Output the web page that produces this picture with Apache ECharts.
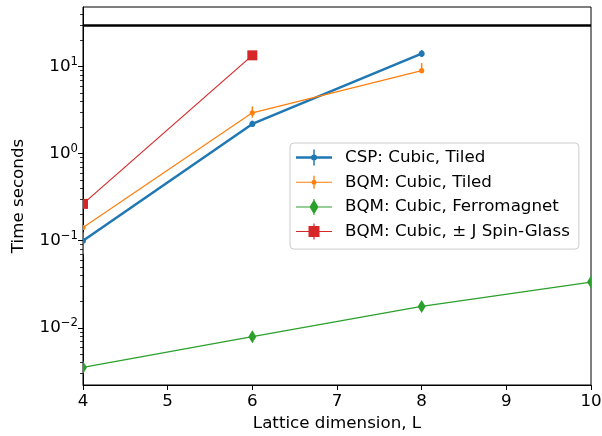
<!DOCTYPE html>
<html><head><meta charset="utf-8">
<script src="https://cdn.jsdelivr.net/npm/echarts@6/dist/echarts.min.js"></script>
<style>html,body{margin:0;padding:0;background:#fff}#c{width:602px;height:436px}</style>
</head><body><div id="c"></div>
<script>
// ---- data ----
const cspTiledX = [4, 6, 8];
const cspTiled = [0.1, 2.2, 14.1];
const cspTiledLow = [0.07, 2.05, 12.9];
const cspTiledHigh = [0.125, 2.4, 15.5];

const bqmTiledX = [4, 6, 8];
const bqmTiled = [0.142, 2.95, 9.0];
const bqmTiledLow = [0.135, 2.6, 8.5];
const bqmTiledHigh = [0.15, 3.5, 11.0];

const ferroX = [4, 6, 8, 10];
const ferro = [0.0035, 0.0079, 0.0176, 0.0335];

const spinX = [4, 6];
const spin = [0.265, 13.5];

const timeoutSeconds = 30;

const xTicks = [4, 5, 6, 7, 8, 9, 10];
const yMajorTicks = [0.01, 0.1, 1, 10];
const yMinorTicks = [0.003, 0.004, 0.005, 0.006, 0.007, 0.008, 0.009,
  0.02, 0.03, 0.04, 0.05, 0.06, 0.07, 0.08, 0.09,
  0.2, 0.3, 0.4, 0.5, 0.6, 0.7, 0.8, 0.9,
  2, 3, 4, 5, 6, 7, 8, 9, 20, 30, 40];

const names = ['CSP: Cubic, Tiled', 'BQM: Cubic, Tiled', 'BQM: Cubic, Ferromagnet', 'BQM: Cubic, \u00b1 J Spin-Glass'];
const colors = ['#1f77b4', '#ff7f0e', '#2ca02c', '#d62728'];

const FONT = 'DejaVu Sans';
const FS = 16.7;
const Y_MIN = 0.0022, Y_MAX = 48.5;

function lineSeries(i, xs, ys, width) {
  return {
    type: 'line', name: names[i], data: xs.map((x, k) => [x, ys[k]]),
    showSymbol: false, symbol: 'none', clip: true, z: 2 + i * 2,
    lineStyle: { color: colors[i], width: width },
    itemStyle: { color: colors[i] }, animation: false, silent: true
  };
}
function markerSeries(i, xs, ys, lo, hi, shape, ebw) {
  const color = colors[i];
  return {
    type: 'custom', name: names[i], clip: true, z: 3 + i * 2, animation: false, silent: true,
    itemStyle: { color: color },
    data: xs.map((x, k) => [x, ys[k], lo ? lo[k] : ys[k], hi ? hi[k] : ys[k]]),
    encode: { x: 0, y: 1 },
    renderItem(params, api) {
      const p = api.coord([api.value(0), api.value(1)]);
      const pl = api.coord([api.value(0), api.value(2)]);
      const ph = api.coord([api.value(0), api.value(3)]);
      const cx = p[0], cy = p[1];
      const ch = [];
      if (Math.abs(pl[1] - ph[1]) > 0.5) {
        ch.push({ type: 'line', shape: { x1: cx, y1: pl[1], x2: cx, y2: ph[1] }, style: { stroke: color, lineWidth: ebw } });
      }
      if (shape === 'circle') {
        ch.push({ type: 'circle', shape: { cx, cy, r: i === 0 ? 3 : 2.6 }, style: { fill: color } });
      } else if (shape === 'diamond') {
        ch.push({ type: 'polygon', shape: { points: [[cx, cy - 6.5], [cx + 4, cy], [cx, cy + 6.5], [cx - 4, cy]] }, style: { fill: color } });
      } else if (shape === 'square') {
        ch.push({ type: 'rect', shape: { x: cx - 5, y: cy - 5, width: 10, height: 10 }, style: { fill: color } });
      }
      return { type: 'group', children: ch };
    }
  };
}

const icons = [
  'path://M0 6.75H36V9.25H0Z M17.25 0H18.75V16H17.25Z M15 8A3 3 0 1 1 21 8A3 3 0 1 1 15 8Z',
  'path://M0 7.5H36V8.5H0Z M17.3 1.5H18.7V14.5H17.3Z M15.5 8A2.5 2.5 0 1 1 20.5 8A2.5 2.5 0 1 1 15.5 8Z M0 0H0.01V0.01H0Z M35.99 15.99H36V16H35.99Z',
  'path://M0 7.5H36V8.5H0Z M17.4 0H18.6V16H17.4Z M18 0.5L22.5 8L18 15.5L13.5 8Z',
  'path://M0 7.5H36V8.5H0Z M17.4 0H18.6V16H17.4Z M12.5 2.5H23.5V13.5H12.5Z'
];

const chart = echarts.init(document.getElementById('c'), null, { renderer: 'canvas' });
chart.setOption({
  animation: false,
  backgroundColor: '#fff',
  textStyle: { fontFamily: FONT },
  grid: { left: 83, right: 11, top: 7, bottom: 51, show: true, borderColor: '#000', borderWidth: 1, backgroundColor: 'transparent', containLabel: false, outerBoundsMode: 'none' },
  legend: {
    left: 290, top: 143, orient: 'vertical', selectedMode: false,
    itemWidth: 36, itemHeight: 16, itemGap: 7.7, symbolKeepAspect: false,
    padding: [6, 9, 9, 6],
    backgroundColor: 'rgba(255,255,255,0.8)', borderColor: '#cccccc', borderWidth: 1, borderRadius: 4,
    textStyle: { fontFamily: FONT, fontSize: FS, lineHeight: 15, height: 15, color: '#000', padding: [0, 0, 0, 8] },
    data: names.map((n, k) => ({ name: n, icon: icons[k], itemStyle: { color: colors[k] } }))
  },
  xAxis: {
    type: 'value', min: 4, max: 10, interval: 1,
    name: 'Lattice dimension, L', nameLocation: 'middle', nameGap: 30,
    nameTextStyle: { fontFamily: FONT, fontSize: FS, color: '#000' },
    axisLine: { show: true, lineStyle: { color: '#000', width: 1 } },
    axisTick: { show: true, inside: false, length: 5, lineStyle: { color: '#000', width: 1 } },
    axisLabel: { fontFamily: FONT, fontSize: FS, color: '#000', margin: 8 },
    splitLine: { show: false }
  },
  yAxis: [{
    type: 'log', logBase: 10, min: Y_MIN, max: Y_MAX,
    name: 'Time seconds', nameLocation: 'middle', nameGap: 56,
    nameTextStyle: { fontFamily: FONT, fontSize: FS, color: '#000' },
    axisLine: { show: true, lineStyle: { color: '#000', width: 1 } },
    axisTick: { show: true, inside: false, length: 5, customValues: yMajorTicks, lineStyle: { color: '#000', width: 1 } },
    axisLabel: {
      customValues: yMajorTicks, margin: 5, color: '#000',
      formatter: v => { const e = Math.round(Math.log10(v)); return '{b|10}{s|' + (e < 0 ? '\u2212' + (-e) : e) + '}'; },
      rich: {
        b: { fontFamily: FONT, fontSize: FS, lineHeight: 22, color: '#000' },
        s: { fontFamily: FONT, fontSize: 11.7, lineHeight: 9, verticalAlign: 'top', color: '#000' }
      }
    },
    splitLine: { show: false }
  }, {
    type: 'log', logBase: 10, min: Y_MIN, max: Y_MAX, position: 'left',
    axisLine: { show: false },
    axisTick: { show: true, inside: false, length: 3, customValues: yMinorTicks, lineStyle: { color: '#000', width: 0.8 } },
    axisLabel: { show: false },
    splitLine: { show: false }
  }],
  series: [
    Object.assign(lineSeries(0, cspTiledX, cspTiled, 2.5), {
      markLine: {
        silent: true, symbol: 'none', animation: false,
        lineStyle: { color: '#000', width: 2.5, type: 'solid' }, label: { show: false },
        data: [{ yAxis: timeoutSeconds }]
      }
    }),
    markerSeries(0, cspTiledX, cspTiled, cspTiledLow, cspTiledHigh, 'circle', 2),
    lineSeries(1, bqmTiledX, bqmTiled, 1.2),
    markerSeries(1, bqmTiledX, bqmTiled, bqmTiledLow, bqmTiledHigh, 'circle', 1.5),
    lineSeries(2, ferroX, ferro, 1.2),
    markerSeries(2, ferroX, ferro, null, null, 'diamond', 1),
    lineSeries(3, spinX, spin, 1.2),
    markerSeries(3, spinX, spin, null, null, 'square', 1)
  ]
});
</script></body></html>
